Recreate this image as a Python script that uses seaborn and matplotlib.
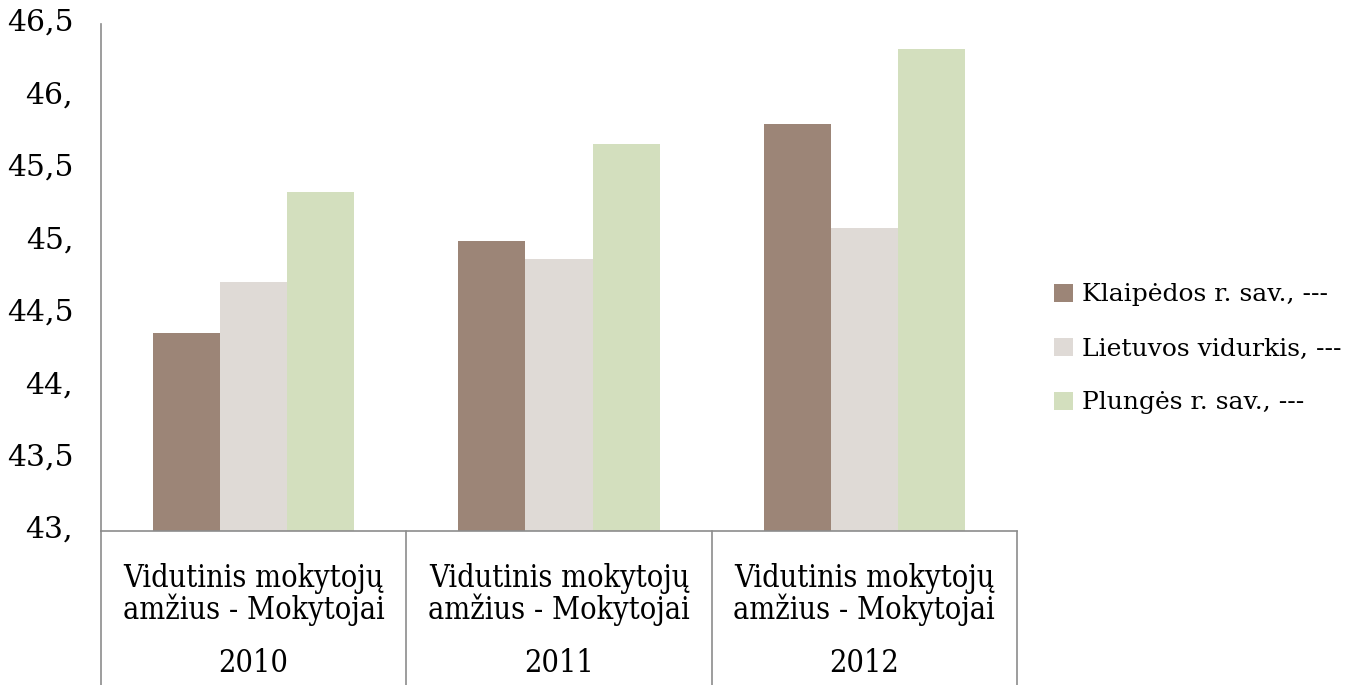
import matplotlib
matplotlib.use("Agg")
import matplotlib.pyplot as plt
import matplotlib.transforms as mtransforms
import seaborn as sns
import pandas as pd

years = ["2010", "2011", "2012"]
category_lines = ["Vidutinis mokytojų", "amžius - Mokytojai"]
series = ["Klaipėdos r. sav., ---", "Lietuvos vidurkis, ---", "Plungės r. sav., ---"]
klaipeda = [44.37, 45.00, 45.81]
lietuva = [44.72, 44.88, 45.09]
plunge = [45.34, 45.67, 46.33]
colors = ["#9C8577", "#DFDAD6", "#D3DFBE"]
yticks = [43, 43.5, 44, 44.5, 45, 45.5, 46, 46.5]
ytick_labels = ["43,", "43,5", "44,", "44,5", "45,", "45,5", "46,", "46,5"]

sns.set_theme(style="white")
plt.rcParams["font.family"] = ["DejaVu Serif", "DejaVu Sans"]
plt.rcParams["text.color"] = "black"
plt.rcParams["ytick.color"] = "black"

rows = []
for s, vals in zip(series, [klaipeda, lietuva, plunge]):
    for y, v in zip(years, vals):
        rows.append({"year": y, "series": s, "value": v})
df = pd.DataFrame(rows)

fig = plt.figure(figsize=(13.61, 6.85), dpi=100)
ax = fig.add_axes([101 / 1361, 1 - 531 / 685, (1017 - 101) / 1361, (531 - 24) / 685])

sns.barplot(data=df, x="year", y="value", hue="series", hue_order=series,
            palette=colors, width=0.66, saturation=1, ax=ax, linewidth=0,
            edgecolor="none", legend=True)

ax.set_ylim(43, 46.5)
ax.set_xlim(-0.5, 2.5)
ax.set_yticks(yticks)
ax.set_yticklabels(ytick_labels, fontsize=21.5, color="black")
ax.tick_params(axis="y", length=0, pad=20)
shift = mtransforms.ScaledTranslation(0, 4 / 100, fig.dpi_scale_trans)
for lab in ax.get_yticklabels():
    lab.set_transform(lab.get_transform() + shift)
ax.set_xticks([])
ax.set_xlabel("")
ax.set_ylabel("")
for side in ["top", "right"]:
    ax.spines[side].set_visible(False)
ax.spines["left"].set_color("#8C8C8C")
ax.spines["bottom"].set_color("#8C8C8C")
ax.spines["left"].set_linewidth(1.2)
ax.spines["bottom"].set_linewidth(1.2)

trans = ax.get_xaxis_transform()
ext = -(685 - 531) / (531 - 24)
for xb in [-0.5, 0.5, 1.5, 2.5]:
    ax.plot([xb, xb], [0, ext], transform=trans, color="#8C8C8C", lw=1.2, clip_on=False)

line_y = [578, 610]
for i, y in enumerate(years):
    for ly, txt in zip(line_y, category_lines):
        ax.text(i, -(ly - 531) / 507, txt, transform=trans, ha="center", va="center",
                fontsize=22, fontstretch="condensed", color="black")
    ax.text(i, -(663 - 531) / 507, y, transform=trans, ha="center", va="center",
            fontsize=22, fontstretch="condensed", color="black")

leg = ax.legend(loc="center left", bbox_to_anchor=(1.03, (531 - 349) / 507), frameon=False,
                fontsize=18, handlelength=0.75, handleheight=0.75, handletextpad=0.35,
                labelspacing=1.24, borderaxespad=0)
for t in leg.get_texts():
    t.set_color("black")

fig.savefig("out.png", dpi=100)
